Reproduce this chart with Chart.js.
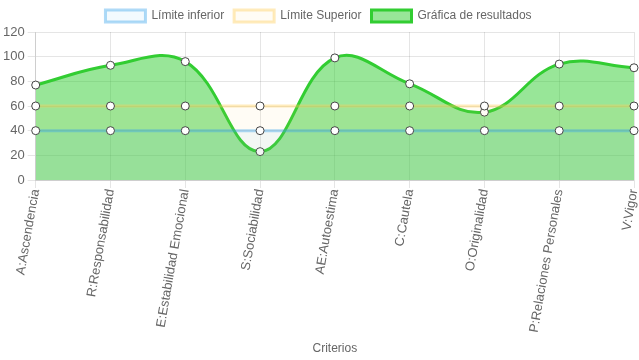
<!DOCTYPE html>
<html>
<head>
<meta charset="utf-8">
<script src="https://cdn.jsdelivr.net/npm/chart.js"></script>
<style>
  body { margin: 0; background: #fff; }
  #wrap { width: 639px; height: 360px; }
</style>
</head>
<body>
<div id="wrap"><canvas id="grafico"></canvas></div>
<script>
// Datos del gráfico
const criterios = [
    "A:Ascendencia", "R:Responsabilidad", "E:Estabilidad Emocional", "S:Sociabilidad",
    "AE:Autoestima", "C:Cautela", "O:Originalidad", "P:Relaciones Personales", "V:Vigor"
];
const limiteInferior = [40, 40, 40, 40, 40, 40, 40, 40, 40];
const limiteSuperior = [60, 60, 60, 60, 60, 60, 60, 60, 60];
const resultados = [77, 93, 96, 23, 99, 78, 55, 94, 91];

Chart.defaults.font.family = "'Liberation Sans', Arial, sans-serif";
Chart.defaults.color = "#666";

const ctx = document.getElementById("grafico").getContext("2d");

// Opciones comunes de los puntos
const puntos = {
    pointBackgroundColor: "#fff",
    pointBorderColor: "#444",
    pointBorderWidth: 1,
    pointRadius: 4
};

new Chart(ctx, {
    type: "line",
    data: {
        labels: criterios,
        datasets: [
            {
                label: "Límite inferior",
                data: limiteInferior,
                borderColor: "rgba(54, 162, 235, 0.4)",
                backgroundColor: "rgba(54, 162, 235, 0.06)",
                borderWidth: 3,
                fill: "origin",
                tension: 0,
                ...puntos
            },
            {
                label: "Límite Superior",
                data: limiteSuperior,
                borderColor: "rgba(255, 205, 86, 0.4)",
                backgroundColor: "rgba(255, 205, 86, 0.06)",
                borderWidth: 3,
                fill: "origin",
                tension: 0,
                ...puntos
            },
            {
                label: "Gráfica de resultados",
                data: resultados,
                borderColor: "rgb(50, 205, 50)",
                backgroundColor: "rgba(50, 205, 50, 0.5)",
                borderWidth: 3,
                fill: "origin",
                tension: 0.4,
                ...puntos
            }
        ]
    },
    options: {
        responsive: true,
        maintainAspectRatio: false,
        animation: false,
        layout: { padding: { right: 2 } },
        plugins: {
            legend: {
                position: "top",
                labels: { font: { size: 12 } }
            }
        },
        scales: {
            x: {
                title: { display: true, text: "Criterios", font: { size: 12 } },
                ticks: { minRotation: 80, maxRotation: 80, padding: 0, font: { size: 13 } },
                afterFit: (scale) => {
                    // ajustar el alto del eje y el margen derecho
                    scale.height = 180;
                    scale.paddingRight = 2;
                }
            },
            y: {
                min: 0,
                max: 120,
                ticks: { stepSize: 20, font: { size: 13 } }
            }
        }
    }
});
</script>
</body>
</html>
